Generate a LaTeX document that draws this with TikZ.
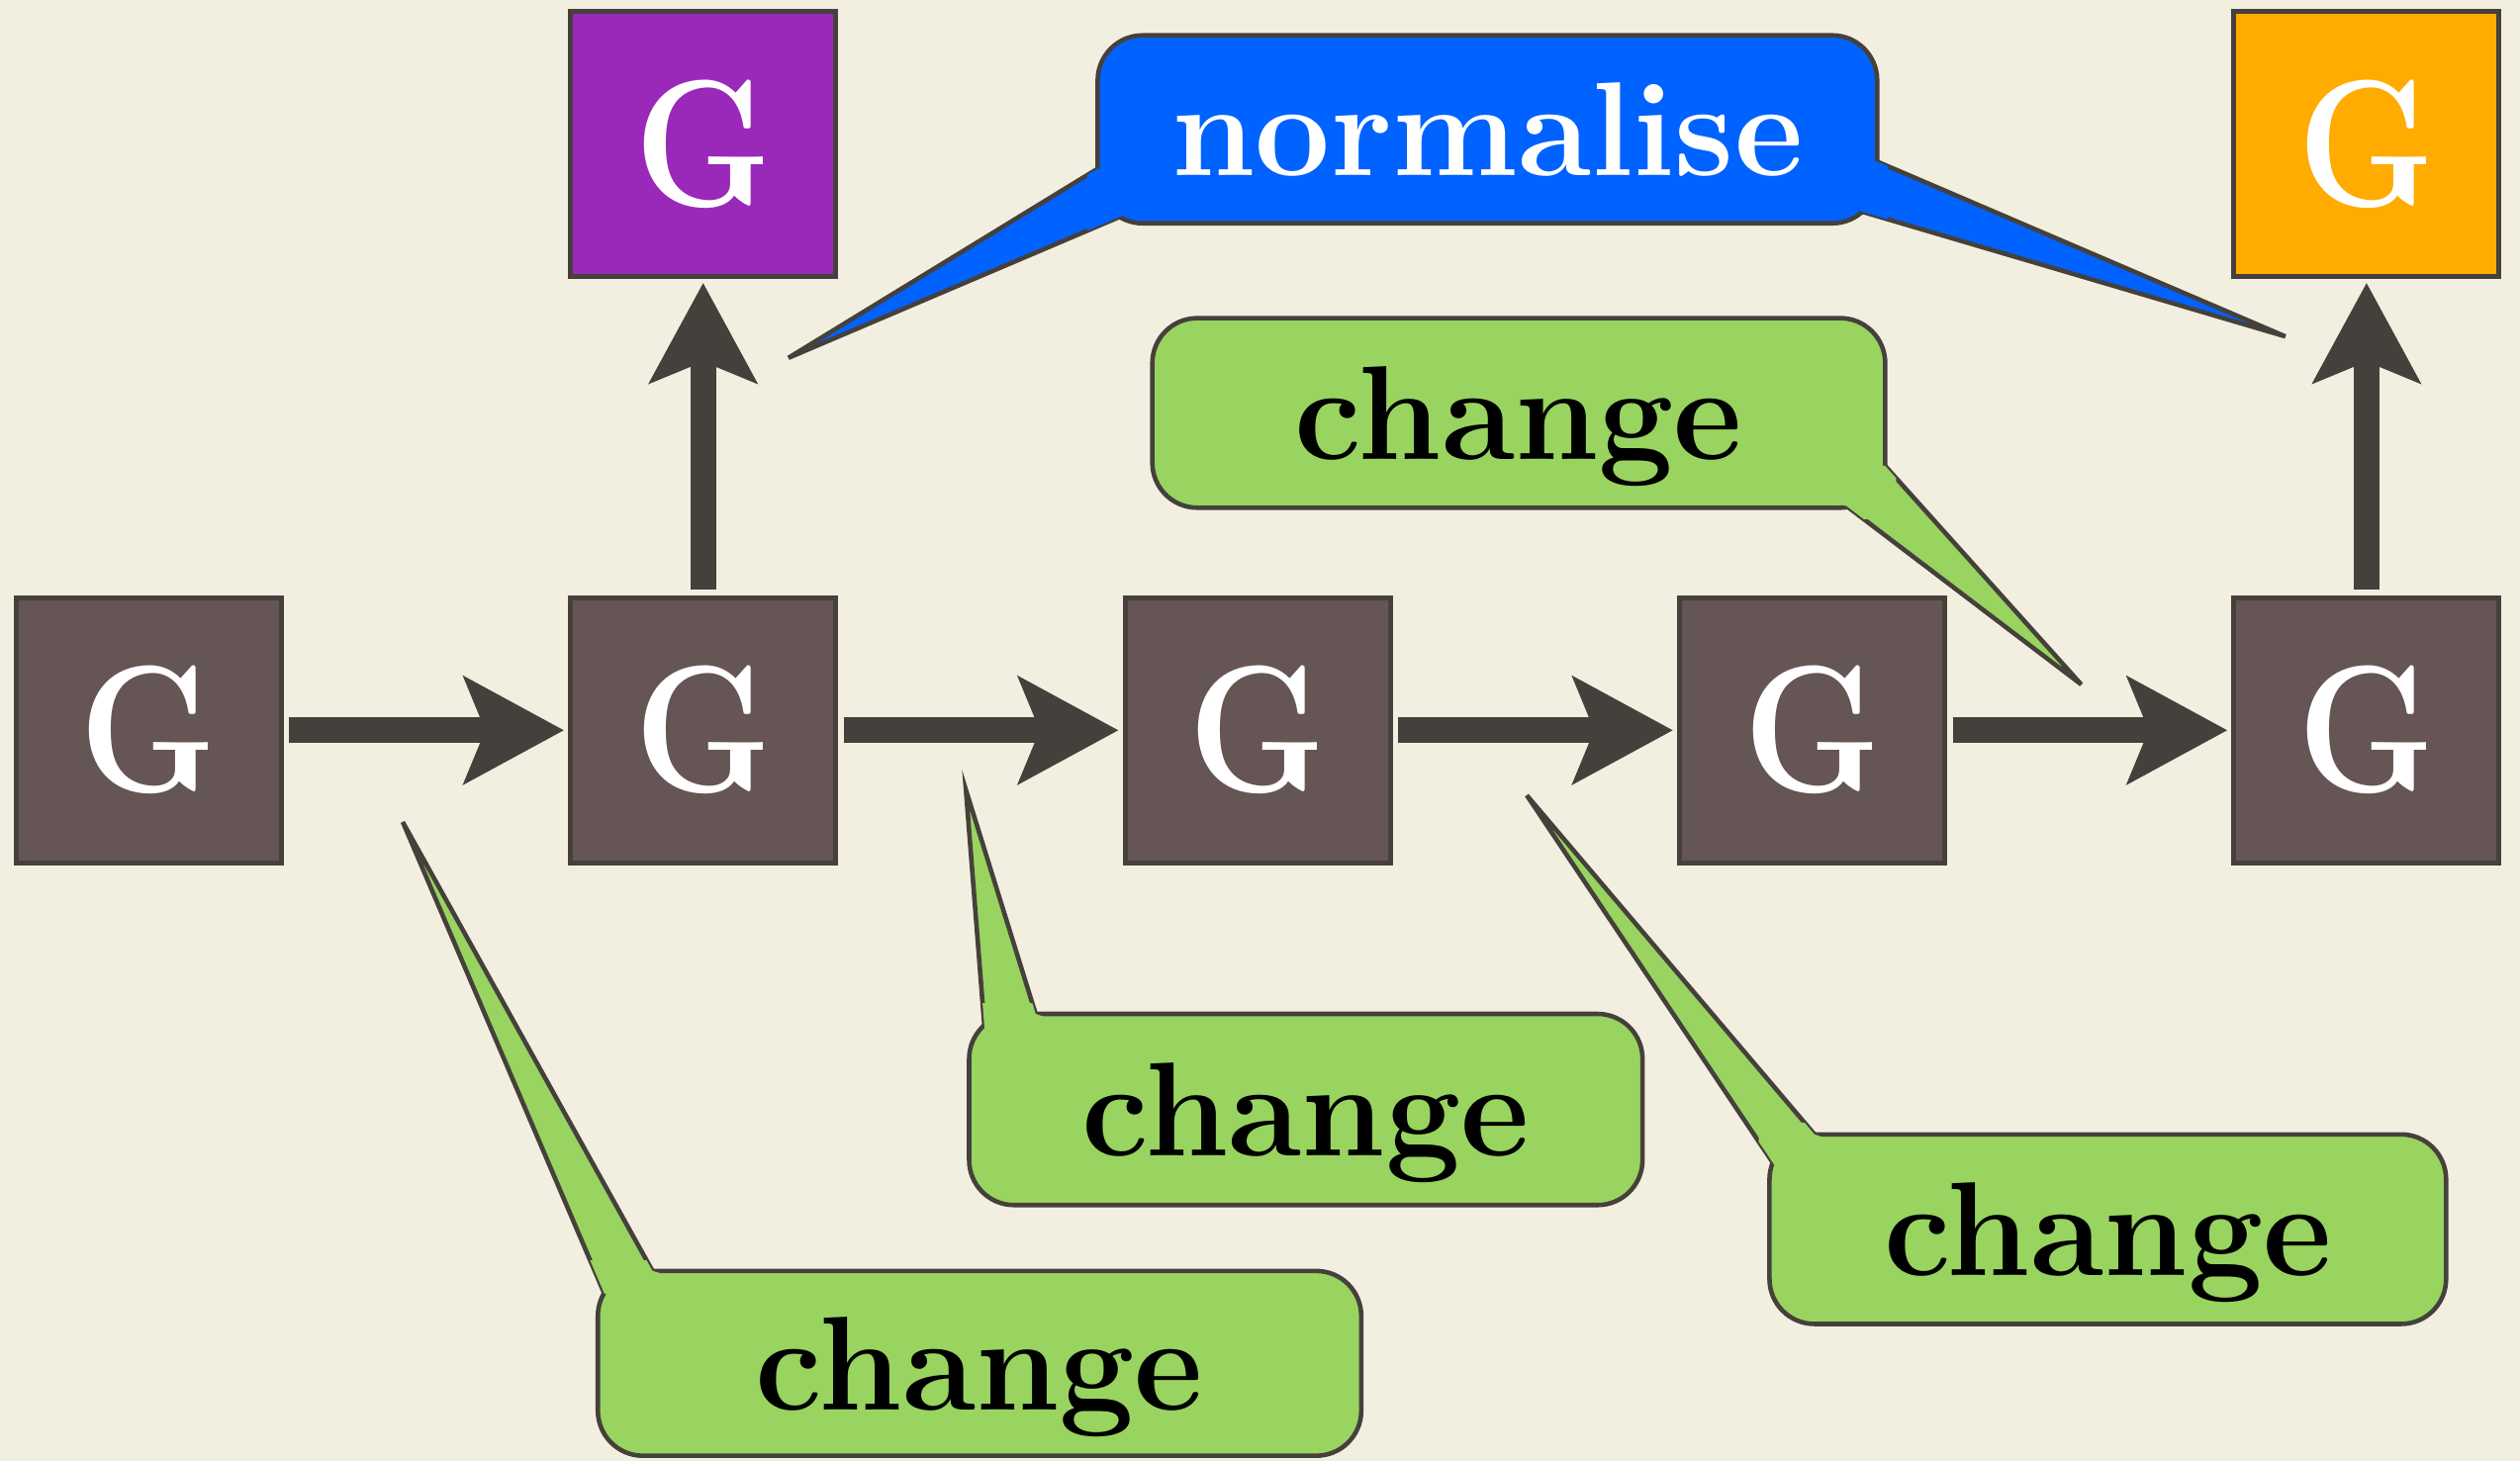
\documentclass[tikz,border=0pt]{standalone}
\usetikzlibrary{positioning,arrows.meta,calc}

\definecolor{paper}{HTML}{F3EFE0}
\definecolor{edge}{HTML}{46403C}
\definecolor{gbrown}{HTML}{655554}
\definecolor{gpurple}{HTML}{9A29BA}
\definecolor{gorange}{HTML}{FFAB00}
\definecolor{nblue}{HTML}{0062FF}
\definecolor{cgreen}{HTML}{98D45F}

% fill the joint of a tail and its bubble again, so the border opens there
\newcommand\tailgap[5]{%
  \begin{scope}
    \clip ([shift={(-1.5pt,-1.5pt)}]#2.south west) rectangle ([shift={(1.5pt,1.5pt)}]#2.north east);
    \fill[#1] (#3) -- (#4) -- ($(#4)!1.5pt!(#2.center)$) -- ($(#5)!1.5pt!(#2.center)$) -- (#5) -- cycle;
  \end{scope}}

\begin{document}
\begin{tikzpicture}[
    gbox/.style={draw=edge,line width=0.9pt,fill=gbrown,minimum size=1.65cm,inner sep=0pt,outer sep=0pt,text=white,font=\fontsize{32}{36}\selectfont\bfseries},
    arr/.style={draw=edge,line width=0.16cm,-{Stealth[length=0.62cm,width=0.66cm,inset=0.13cm]},shorten <=0.05cm,shorten >=0.04cm},
    bubble/.style={draw=edge,line width=0.8pt,rounded corners=0.28cm,minimum height=1.18cm,inner sep=0pt,text depth=0pt,font=\fontsize{23.7}{28}\selectfont\bfseries},
    tail/.style={draw=edge,line width=0.8pt}
    ]
    \fill[paper] (0,0) rectangle (15.68,9.09);
    \useasboundingbox (0,0) rectangle (15.68,9.09);

    \node[gbox] (g1) at (0.925,4.545) {\scalebox{0.86}[1]{G}};
    \node[gbox,right=1.8cm of g1] (g2) {\scalebox{0.86}[1]{G}};
    \node[gbox,right=1.8cm of g2] (g3) {\scalebox{0.86}[1]{G}};
    \node[gbox,right=1.8cm of g3] (g4) {\scalebox{0.86}[1]{G}};
    \node[gbox,right=1.8cm of g4] (g5) {\scalebox{0.86}[1]{G}};
    \node[gbox,fill=gpurple,above=2cm of g2] (gtop1) {\scalebox{0.86}[1]{G}};
    \node[gbox,fill=gorange,above=2cm of g5] (gtop2) {\scalebox{0.86}[1]{G}};

    \draw[arr] (g1) -- (g2);
    \draw[arr] (g2) -- (g3);
    \draw[arr] (g3) -- (g4);
    \draw[arr] (g4) -- (g5);
    \draw[arr] (g2) -- (gtop1);
    \draw[arr] (g5) -- (gtop2);

    % normalise
    \coordinate (tipL) at (4.906,6.863);
    \coordinate (baseL1) at (6.83,8.04);
    \coordinate (baseL2) at (6.99,7.75);
    \coordinate (tipR) at (14.22,6.996);
    \coordinate (baseR1) at (11.68,8.084);
    \coordinate (baseR2) at (11.56,7.78);
    \fill[nblue] (tipL) -- (baseL1) -- (baseL2) -- cycle;
    \draw[tail] (baseL1) -- (tipL) -- (baseL2);
    \fill[nblue] (tipR) -- (baseR1) -- (baseR2) -- cycle;
    \draw[tail] (baseR1) -- (tipR) -- (baseR2);
    \node[bubble,fill=nblue,text=white,minimum width=4.85cm,minimum height=1.17cm] (norm) at (9.255,8.285) {normalise};
    \tailgap{nblue}{norm}{tipL}{baseL1}{baseL2}
    \tailgap{nblue}{norm}{tipR}{baseR1}{baseR2}

    % change, top
    \coordinate (tipT) at (12.95,4.83);
    \coordinate (baseT1) at (11.73,6.19);
    \coordinate (baseT2) at (11.49,5.94);
    \fill[cgreen] (tipT) -- (baseT1) -- (baseT2) -- cycle;
    \draw[tail] (baseT1) -- (tipT) -- (baseT2);
    \node[bubble,fill=cgreen,minimum width=4.56cm] (chgT) at (9.45,6.52) {change};
    \tailgap{cgreen}{chgT}{tipT}{baseT1}{baseT2}

    % change, below the first arrow
    \coordinate (tipA) at (2.506,3.974);
    \coordinate (baseA1) at (4.06,1.18);
    \coordinate (baseA2) at (3.76,1.04);
    \fill[cgreen] (tipA) -- (baseA1) -- (baseA2) -- cycle;
    \draw[tail] (baseA1) -- (tipA) -- (baseA2);
    \node[bubble,fill=cgreen,minimum width=4.75cm,minimum height=1.15cm] (chgA) at (6.095,0.605) {change};
    \tailgap{cgreen}{chgA}{tipA}{baseA1}{baseA2}

    % change, below the second arrow
    \coordinate (tipB) at (6.01,4.174);
    \coordinate (baseB1) at (6.444,2.78);
    \coordinate (baseB2) at (6.126,2.69);
    \fill[cgreen] (tipB) -- (baseB1) -- (baseB2) -- cycle;
    \draw[tail] (baseB1) -- (tipB) -- (baseB2);
    \node[bubble,fill=cgreen,minimum width=4.19cm,minimum height=1.19cm] (chgB) at (8.125,2.185) {change};
    \tailgap{cgreen}{chgB}{tipB}{baseB1}{baseB2}

    % change, below the third arrow
    \coordinate (tipC) at (9.50,4.14);
    \coordinate (baseC1) at (11.29,2.03);
    \coordinate (baseC2) at (11.04,1.84);
    \fill[cgreen] (tipC) -- (baseC1) -- (baseC2) -- cycle;
    \draw[tail] (baseC1) -- (tipC) -- (baseC2);
    \node[bubble,fill=cgreen,minimum width=4.21cm] (chgC) at (13.115,1.44) {change};
    \tailgap{cgreen}{chgC}{tipC}{baseC1}{baseC2}
  \end{tikzpicture}
\end{document}
